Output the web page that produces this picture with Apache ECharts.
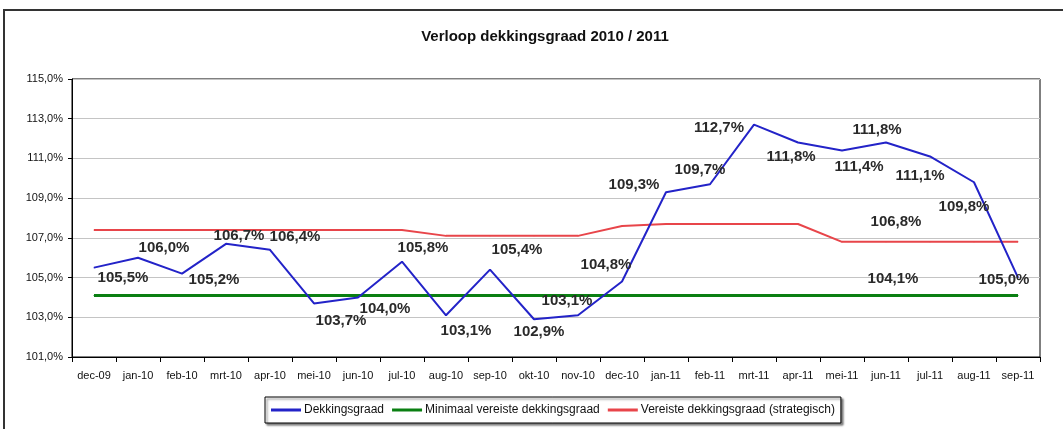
<!DOCTYPE html>
<html>
<head>
<meta charset="utf-8">
<script src="https://cdn.jsdelivr.net/npm/echarts@6/dist/echarts.min.js"></script>
<style>
  html, body { margin: 0; padding: 0; background: #fff; }
  #main { width: 1063px; height: 429px; }
</style>
</head>
<body>
<div id="main"></div>
<script>
var months = ['dec-09', 'jan-10', 'feb-10', 'mrt-10', 'apr-10', 'mei-10', 'jun-10', 'jul-10',
  'aug-10', 'sep-10', 'okt-10', 'nov-10', 'dec-10', 'jan-11', 'feb-11', 'mrt-11', 'apr-11',
  'mei-11', 'jun-11', 'jul-11', 'aug-11', 'sep-11'];

var dekkingsgraad = [105.5, 106.0, 105.2, 106.7, 106.4, 103.7, 104.0, 105.8, 103.1, 105.4, 102.9,
  103.1, 104.8, 109.3, 109.7, 112.7, 111.8, 111.4, 111.8, 111.1, 109.8, 105.0];

var minimaal = [104.1, 104.1, 104.1, 104.1, 104.1, 104.1, 104.1, 104.1, 104.1, 104.1, 104.1,
  104.1, 104.1, 104.1, 104.1, 104.1, 104.1, 104.1, 104.1, 104.1, 104.1, 104.1];

var strategisch = [107.4, 107.4, 107.4, 107.4, 107.4, 107.4, 107.4, 107.4, 107.1, 107.1, 107.1,
  107.1, 107.6, 107.7, 107.7, 107.7, 107.7, 106.8, 106.8, 106.8, 106.8, 106.8];

// where Excel put each data label, relative to the point
var blueLabelOffsets = [[29, 10], [26, -10], [32, 6], [13, -8], [25, -13], [27, 17], [27, 11],
  [21, -14], [20, 16], [27, -20], [5, 13], [-11, -14], [-16, -17], [-32, -7], [-10, -14],
  [-35, 3], [-7, 14], [17, 16], [-9, -13], [-10, 19], [-10, 25], [-14, 2]];

var labelIndex = 18; // jun-11, only point labelled on the flat lines

function pct(v) {
  return v.toFixed(1).replace('.', ',') + '%';
}

var labelText = {
  show: true,
  position: 'inside',
  color: '#2a2a2a',
  fontSize: 15,
  fontWeight: 'bold',
  fontFamily: 'Liberation Sans, Arial, sans-serif',
  formatter: function (p) { return pct(p.value); }
};

var blueData = dekkingsgraad.map(function (v, i) {
  return { value: v, label: Object.assign({}, labelText, { offset: blueLabelOffsets[i] }) };
});

function flatData(arr, offset) {
  return arr.map(function (v, i) {
    if (i === labelIndex) {
      return { value: v, label: Object.assign({}, labelText, { offset: offset }) };
    }
    return { value: v, label: { show: false } };
  });
}

var chart = echarts.init(document.getElementById('main'));

var option = {
  animation: false,
  textStyle: { fontFamily: 'Liberation Sans, Arial, sans-serif' },
  title: {
    text: 'Verloop dekkingsgraad 2010 / 2011',
    left: 540,
    textAlign: 'center',
    top: 24,
    textStyle: { fontSize: 15, fontWeight: 'bold', color: '#111' }
  },
  graphic: [{
    type: 'rect',
    shape: { x: 4, y: 10, width: 1080, height: 440 },
    style: { fill: 'none', stroke: '#333', lineWidth: 2 },
    silent: true
  }],
  grid: {
    left: 72, right: 23, top: 79, bottom: 72,
    show: true, borderColor: '#000', borderWidth: 1
  },
  legend: {
    left: 265, top: 397,
    itemWidth: 30, itemHeight: 3, itemGap: 8,
    icon: 'rect',
    padding: [7, 6],
    borderColor: '#000', borderWidth: 1,
    backgroundColor: '#fff',
    shadowColor: 'rgba(0,0,0,0.5)', shadowOffsetX: 2, shadowOffsetY: 2, shadowBlur: 2,
    textStyle: { fontSize: 12, color: '#111', padding: [0, 0, 0, -2] },
    data: ['Dekkingsgraad', 'Minimaal vereiste dekkingsgraad', 'Vereiste dekkingsgraad (strategisch)']
  },
  xAxis: {
    type: 'category',
    data: months,
    boundaryGap: true,
    axisLine: { lineStyle: { color: '#000', width: 1 } },
    axisTick: { show: true, length: 5, interval: 0, lineStyle: { color: '#000' } },
    axisLabel: { fontSize: 11, color: '#111', margin: 13, interval: 0 }
  },
  yAxis: {
    type: 'value',
    min: 101, max: 115, interval: 2,
    axisLine: { show: true, lineStyle: { color: '#000' } },
    axisTick: { show: true, length: 4, lineStyle: { color: '#000' } },
    axisLabel: { fontSize: 11, color: '#111', margin: 9, formatter: pct },
    splitLine: { show: true, lineStyle: { color: '#c4c4c4', width: 1 } }
  },
  series: [
    {
      name: 'Minimaal vereiste dekkingsgraad',
      type: 'line',
      data: flatData(minimaal, [7, -17]),
      symbol: 'circle', symbolSize: 1,
      color: '#0a7f12',
      lineStyle: { color: '#0a7f12', width: 3 },
      z: 2
    },
    {
      name: 'Vereiste dekkingsgraad (strategisch)',
      type: 'line',
      data: flatData(strategisch, [10, -20]),
      symbol: 'circle', symbolSize: 1,
      color: '#e8454a',
      lineStyle: { color: '#e8454a', width: 2 },
      z: 3
    },
    {
      name: 'Dekkingsgraad',
      type: 'line',
      data: blueData,
      symbol: 'circle', symbolSize: 1,
      color: '#2323c8',
      lineStyle: { color: '#2323c8', width: 2 },
      z: 4
    }
  ]
};

chart.setOption(option);
</script>
</body>
</html>
